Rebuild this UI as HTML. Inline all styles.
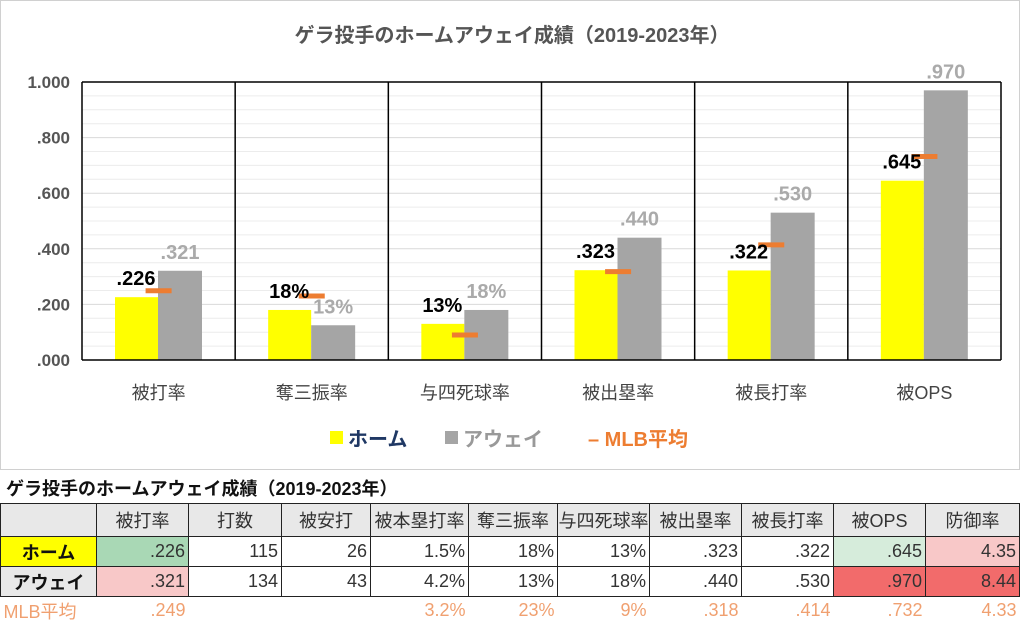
<!DOCTYPE html>
<html><head><meta charset="utf-8"><style>
body{margin:0;width:1024px;height:628px;background:#fff;overflow:hidden;font-family:"Liberation Sans","Noto Sans CJK JP",sans-serif;position:relative}
#chart{position:absolute;left:0;top:0}
table{position:absolute;left:0;top:503px;border-collapse:collapse;font-size:18px;font-family:"Liberation Sans","Noto Sans CJK JP",sans-serif;table-layout:fixed}
td{border:1px solid #222;height:30px;padding:0 3px;text-align:right;color:#333;box-sizing:border-box;white-space:nowrap;overflow:hidden}
tr.h td{background:#e8e8e8;text-align:center;height:33px}
tr.m td{border:none;color:#f0a070;height:28px}
.tt{position:absolute;left:6px;top:475px;font-size:18px;font-weight:bold;color:#111}
</style></head><body>
<svg id="chart" width="1024" height="470" xmlns="http://www.w3.org/2000/svg"></svg>
<div class="tt">ゲラ投手のホームアウェイ成績（2019-2023年）</div>
<table>
<colgroup><col style="width:96px"><col style="width:92px"><col style="width:93px"><col style="width:89px"><col style="width:98px"><col style="width:89px"><col style="width:92px"><col style="width:92px"><col style="width:92px"><col style="width:92px"><col style="width:94px"></colgroup>
<tr class="h"><td></td><td>被打率</td><td>打数</td><td>被安打</td><td style="padding:0">被本塁打率</td><td>奪三振率</td><td style="padding:0">与四死球率</td><td>被出塁率</td><td>被長打率</td><td>被OPS</td><td>防御率</td></tr>
<tr><td style="background:#ffff00;text-align:center;font-weight:bold;color:#111">ホーム</td><td style="background:#a9d8b5">.226</td><td>115</td><td>26</td><td>1.5%</td><td>18%</td><td>13%</td><td>.323</td><td>.322</td><td style="background:#d6ecdb">.645</td><td style="background:#f8c8c8">4.35</td></tr>
<tr><td style="background:#e8e8e8;text-align:center;font-weight:bold;color:#111">アウェイ</td><td style="background:#f8c8c8">.321</td><td>134</td><td>43</td><td>4.2%</td><td>13%</td><td>18%</td><td>.440</td><td>.530</td><td style="background:#f26b6b">.970</td><td style="background:#f26b6b">8.44</td></tr>
<tr class="m"><td style="text-align:left">MLB平均</td><td>.249</td><td></td><td></td><td>3.2%</td><td>23%</td><td>9%</td><td>.318</td><td>.414</td><td>.732</td><td>4.33</td></tr>
</table>
<script>
const categories=["被打率","奪三振率","与四死球率","被出塁率","被長打率","被OPS"];
const homeVals=[0.226,0.18,0.13,0.323,0.322,0.645];
const awayVals=[0.321,0.125,0.18,0.44,0.53,0.97];
const mlbVals=[0.249,0.23,0.09,0.318,0.414,0.732];
const homeLabels=[".226","18%","13%",".323",".322",".645"];
const awayLabels=[".321","13%","18%",".440",".530",".970"];
const yTicks=[0,0.2,0.4,0.6,0.8,1.0];
const yTickLabels=[".000",".200",".400",".600",".800","1.000"];
const NS="http://www.w3.org/2000/svg",svg=document.getElementById('chart');
const L=82,R=1001,T=82,B=360;
const y=v=>B-(v/1.0)*(B-T);
const cw=(R-L)/categories.length;
const x=i=>L+i*cw;
function mk(t,a,txt){const e=document.createElementNS(NS,t);for(const k in a)e.setAttribute(k,a[k]);if(txt!==undefined)e.textContent=txt;svg.appendChild(e);return e;}
let e=mk('rect',{x:0.5,y:0.5,width:1019,height:469,fill:'#fff',stroke:'#d0d0d0'});

e=mk('text',{x:512,y:42,'text-anchor':'middle','font-size':20,'font-weight':'bold',fill:'#555'},'ゲラ投手のホームアウェイ成績（2019-2023年）');

for(let v=0.05;v<1.0;v+=0.05){e=mk('line',{x1:L,x2:R,y1:y(v),y2:y(v),stroke:(Math.round(v*100)%20===0)?'#d9d9d9':'#ececec','stroke-width':1});
}
yTicks.forEach((v,i)=>{e=mk('text',{x:70,y:y(v)+6,'text-anchor':'end','font-size':17,'font-weight':'bold',fill:'#555'},yTickLabels[i]);
});
categories.forEach((c,i)=>{
const bx=x(i)+33;
e=mk('rect',{x:bx,y:y(homeVals[i]),width:43,height:B-y(homeVals[i]),fill:'#ffff00'});

e=mk('rect',{x:bx+43,y:y(awayVals[i]),width:44,height:B-y(awayVals[i]),fill:'#a5a5a5'});

e=mk('line',{x1:x(i)+cw/2-13,x2:x(i)+cw/2+13,y1:y(mlbVals[i]),y2:y(mlbVals[i]),stroke:'#ed7d31','stroke-width':5});

e=mk('text',{x:bx+21,y:y(homeVals[i])-12,'text-anchor':'middle','font-size':20,'font-weight':'bold',fill:'#000'},homeLabels[i]);

e=mk('text',{x:bx+65,y:y(awayVals[i])-12,'text-anchor':'middle','font-size':20,'font-weight':'bold',fill:'#aaa'},awayLabels[i]);

e=mk('text',{x:x(i)+cw/2,y:399,'text-anchor':'middle','font-size':18,fill:'#444'},c);

});
for(let i=0;i<=categories.length;i++){e=mk('line',{x1:x(i),x2:x(i),y1:T,y2:B,stroke:'#000','stroke-width':1.5});
}
e=mk('line',{x1:L,x2:R,y1:T,y2:T,stroke:'#000','stroke-width':1.5});
e=mk('line',{x1:L,x2:R,y1:B,y2:B,stroke:'#000','stroke-width':1.5});
e=mk('rect',{x:330,y:431,width:13,height:13,fill:'#ffff00'});
e=mk('text',{x:348,y:446,'font-size':20,'font-weight':'bold',fill:'#1f3864'},'ホーム');
e=mk('rect',{x:445,y:431,width:13,height:13,fill:'#a5a5a5'});
e=mk('text',{x:463,y:446,'font-size':20,'font-weight':'bold',fill:'#999'},'アウェイ');
e=mk('text',{x:588,y:446,'font-size':20,'font-weight':'bold',fill:'#ed7d31'},'– MLB平均');
</script>
</body></html>
